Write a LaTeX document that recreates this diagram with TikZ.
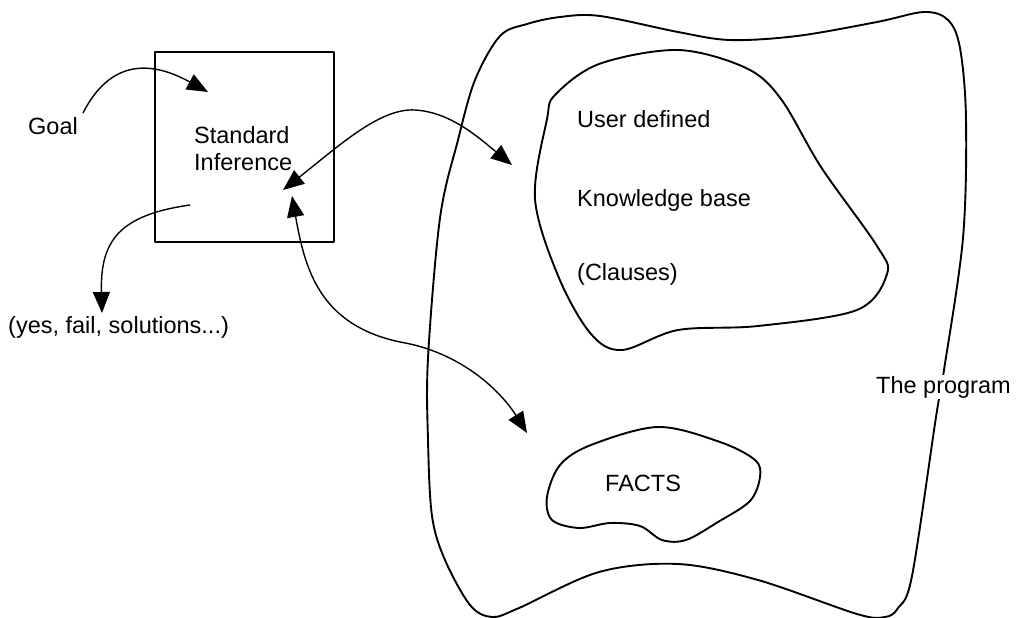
\documentclass[tikz,border=0pt]{standalone}
\usepackage{fontspec}
\setmainfont{Liberation Sans}
\usetikzlibrary{arrows.meta}
\begin{document}
\begin{tikzpicture}[x=1pt,y=-1pt,
  outline/.style={line width=1.9pt, line join=round},
  conn/.style={line width=1.4pt, -{Triangle[length=21pt,width=17pt]}},
  dconn/.style={line width=1.4pt, {Triangle[length=21pt,width=17pt]}-{Triangle[length=21pt,width=17pt]}},
  lbl/.style={font=\fontsize{23.5}{28}\selectfont, inner sep=0pt, anchor=base west}]
\useasboundingbox (0,0) rectangle (1021,618);
% the program
\draw[outline] plot[smooth cycle, tension=0.55] coordinates {
 (527,24) (560,17) (600,16) (678,32) (730,40) (797,36) (877,22) (924,12)
 (948,20) (960,48) (966,119) (963,238) (944,370) (936,417) (912,576)
 (898,608) (885,617) (857,614) (758,580) (678,564) (599,572) (519,608)
 (492,617) (470,605) (445,560) (432,516) (428,440) (428,358) (440,218)
 (458,140) (475,80) (500,36)};
% knowledge base
\draw[outline] plot[smooth cycle, tension=0.55] coordinates {
 (555,95) (599,64) (678,50) (746,68) (781,99) (821,167) (877,246) (887,274)
 (857,310) (758,326) (678,330) (622,350) (591,334) (559,278) (535,199) (547,119)};
% facts
\draw[outline] plot[smooth cycle, tension=0.55] coordinates {
 (547,497) (560,465) (591,445) (658,427) (720,442) (755,460) (760,477)
 (750,501) (718,522) (686,540) (662,540) (640,526) (610,523) (579,528) (552,520)};
% box
\node[draw, outline, minimum width=179pt, minimum height=190pt, inner sep=0pt] (sib) at (244.5,147) {};
% labels
\node[lbl] (goal) at (28,134) {Goal};
\node[lbl] (std) at (194,143) {Standard};
\node[lbl] (inf) at (194,170) {Inference};
\node[lbl] (res) at (8,333) {(yes, fail, solutions...)};
\node[lbl] (ud) at (577,128) {User defined};
\node[lbl] (kb) at (577,206) {Knowledge base};
\node[lbl] (cl) at (577,280) {(Clauses)};
\node[lbl] (facts) at (605,491) {FACTS};
\node[lbl, fill=white, inner sep=1pt] (prog) at (875,393) {The program};
% connector end points
\coordinate (g0) at (83,113);
\coordinate (g1) at (208,92);
\coordinate (o0) at (190,205);
\coordinate (o1) at (102,313);
\coordinate (ka) at (283,190);
\coordinate (kb1) at (512,165);
\coordinate (fa) at (292,196);
\coordinate (fb) at (527,433);
% connectors
\draw[conn] (g0) .. controls (110,60) and (150,60) .. (g1);
\draw[conn] (o0) .. controls (120,215) and (100,240) .. (o1);
\draw[dconn] (ka) .. controls (340,145) and (380,108) .. (415,110)
  .. controls (450,112) and (478,137) .. (kb1);
\draw[dconn] (fa) .. controls (305,270) and (320,325) .. (400,342)
  .. controls (460,352) and (500,390) .. (fb);
\end{tikzpicture}
\end{document}
